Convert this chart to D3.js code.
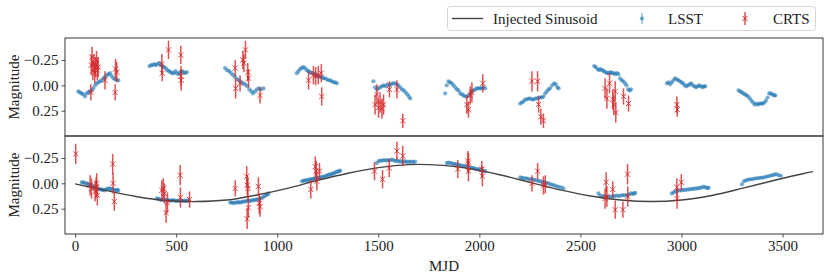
<!DOCTYPE html>
<html>
<head>
<meta charset="utf-8">
<script src="https://cdn.jsdelivr.net/npm/d3@7"></script>
</head>
<body style="margin:0; background:#fff">
<div id="chart"></div>
<script>
// values: [MJD, magnitude] and [MJD, magnitude, error]
const topLsst = [
  [16,0.06],[24,0.07],[32,0.08],[40,0.09],[49,0.11],[57,0.08],[66,0.07],[74,0.06],[82,0.05],[90,0.03],[99,0.0],[107,-0.02],[115,-0.03],[124,-0.04],[132,-0.05],[140,-0.07],[148,-0.08],[157,-0.1],[165,-0.11],[173,-0.12],[181,-0.09],[190,-0.07],[198,-0.06],[206,-0.05],[214,-0.05],
  [368,-0.19],[376,-0.2],[384,-0.2],[392,-0.21],[400,-0.2],[408,-0.21],[416,-0.22],[424,-0.2],[432,-0.19],[440,-0.18],[448,-0.17],[456,-0.15],[464,-0.14],[472,-0.13],[480,-0.12],[488,-0.12],[496,-0.14],[504,-0.12],[512,-0.11],[520,-0.13],[528,-0.14],[536,-0.13],[544,-0.12],[553,-0.13],
  [742,-0.17],[752,-0.15],[762,-0.14],[772,-0.12],[782,-0.1],[792,-0.08],[802,-0.06],[812,-0.05],[822,-0.03],[832,-0.02],[842,-0.01],[852,0.01],[862,0.04],[872,0.06],[880,0.08],[890,0.06],[900,0.04],[910,0.03],[920,0.04],[932,0.03],
  [1097,-0.12],[1105,-0.14],[1113,-0.16],[1121,-0.17],[1129,-0.18],[1137,-0.17],[1146,-0.15],[1154,-0.14],[1162,-0.13],[1170,-0.12],[1178,-0.12],[1186,-0.11],[1195,-0.1],[1203,-0.09],[1211,-0.08],[1220,-0.08],[1228,-0.07],[1236,-0.07],[1245,-0.06],[1253,-0.05],[1262,-0.05],[1270,-0.04],[1278,-0.03],[1287,-0.03],[1295,-0.02],
  [1476,-0.04],[1484,0.02],[1492,0.04],[1500,0.03],[1509,0.02],[1518,0.01],[1527,0.0],[1536,0.01],[1545,-0.01],[1554,0.0],[1563,-0.01],[1572,-0.02],[1581,-0.02],[1590,-0.01],[1599,0.0],[1608,0.02],[1617,0.04],[1626,0.05],[1635,0.07],[1644,0.09],[1652,0.11],[1658,0.13],
  [1831,0.08],[1839,0.0],[1847,-0.04],[1855,-0.03],[1863,-0.02],[1872,0.0],[1880,0.02],[1889,0.04],[1897,0.05],[1905,0.08],[1914,0.09],[1922,0.1],[1930,0.11],[1938,0.11],[1947,0.1],[1955,0.08],[1963,0.06],[1971,0.05],[1980,0.04],[1988,0.03],[1996,0.03],[2004,0.03],[2012,0.03],[2020,0.02],[2029,0.03],
  [2202,0.18],[2210,0.17],[2218,0.16],[2226,0.14],[2235,0.14],[2243,0.13],[2251,0.13],[2260,0.14],[2268,0.14],[2276,0.13],[2285,0.13],[2293,0.12],[2301,0.12],[2310,0.12],[2317,0.11],[2326,0.08],[2334,0.06],[2342,0.04],[2350,0.03],[2360,0.0],[2370,-0.02],[2378,-0.01],[2386,0.02],[2392,0.03],
  [2568,-0.19],[2576,-0.18],[2584,-0.16],[2592,-0.15],[2600,-0.16],[2608,-0.15],[2616,-0.14],[2624,-0.13],[2632,-0.12],[2640,-0.12],[2648,-0.13],[2656,-0.12],[2664,-0.12],[2672,-0.11],[2680,-0.12],[2688,-0.11],[2696,-0.07],[2704,-0.05],[2712,-0.04],[2720,-0.02],[2728,0.0],[2736,0.04],[2744,0.05],[2750,0.04],
  [2928,-0.02],[2936,-0.03],[2944,-0.01],[2952,-0.03],[2960,-0.05],[2968,-0.07],[2976,-0.06],[2984,-0.05],[2992,-0.04],[3000,-0.03],[3008,-0.02],[3016,0.0],[3024,0.01],[3032,0.0],[3040,-0.01],[3048,-0.02],[3056,0.0],[3064,0.01],[3072,0.02],[3080,0.01],[3088,0.0],[3096,0.01],[3104,0.02],[3112,0.01],[3117,0.01],
  [3282,0.05],[3290,0.06],[3298,0.07],[3306,0.08],[3314,0.09],[3322,0.1],[3330,0.11],[3338,0.13],[3346,0.15],[3354,0.17],[3362,0.19],[3370,0.18],[3378,0.19],[3386,0.18],[3394,0.18],[3402,0.18],[3410,0.17],[3418,0.15],[3426,0.12],[3434,0.08],[3442,0.08],[3450,0.09],[3458,0.1],[3464,0.1]
];

const topCrts = [
  [78,0.07,0.08],[80,-0.2,0.1],[84,-0.28,0.1],[88,-0.15,0.1],[93,-0.22,0.09],[97,-0.12,0.1],[101,-0.18,0.1],[106,-0.25,0.09],[110,-0.15,0.1],[114,-0.18,0.1],[148,-0.05,0.09],[198,0.07,0.08],[200,-0.16,0.1],[206,-0.13,0.1],
  [429,-0.21,0.1],[431,-0.12,0.08],[462,-0.35,0.09],[523,-0.3,0.09],[524,-0.09,0.1],[525,-0.05,0.1],
  [792,-0.17,0.08],[794,0.03,0.1],[816,-0.02,0.08],[830,-0.25,0.09],[835,-0.22,0.09],[843,-0.35,0.09],[854,-0.13,0.09],[858,-0.07,0.09],[915,0.1,0.08],
  [1155,-0.05,0.09],[1179,-0.1,0.09],[1190,-0.09,0.09],[1203,-0.1,0.09],[1218,-0.12,0.09],[1220,0.11,0.09],
  [1484,0.19,0.1],[1493,0.09,0.1],[1501,0.22,0.1],[1509,0.17,0.1],[1518,0.23,0.1],[1526,0.19,0.1],[1555,0.04,0.08],[1592,0.04,0.09],[1621,0.35,0.07],
  [1938,0.19,0.09],[1946,0.24,0.08],[1955,0.1,0.09],[1963,0.07,0.1],[2017,-0.02,0.09],
  [2260,-0.04,0.1],[2288,-0.04,0.1],[2293,0.19,0.08],[2304,0.31,0.08],[2317,0.35,0.07],
  [2622,0.03,0.1],[2631,0.13,0.1],[2644,-0.02,0.1],[2660,0.14,0.1],[2665,0.19,0.1],[2672,0.06,0.1],[2675,0.27,0.1],[2713,0.11,0.08],[2738,0.18,0.08],
  [2977,0.19,0.08],[2979,0.24,0.07]
];

const bottomLsst = [
  [33,-0.01],[41,-0.01],[49,0.0],[57,0.0],[65,0.01],[73,0.01],[81,0.02],[89,0.03],[97,0.04],[105,0.05],[113,0.05],[121,0.06],[129,0.06],[137,0.065],[145,0.07],[153,0.06],[161,0.055],[169,0.05],[177,0.055],[185,0.06],[193,0.065],[201,0.07],[209,0.065],[214,0.07],
  [404,0.15],[412,0.15],[420,0.16],[428,0.165],[436,0.16],[444,0.17],[452,0.16],[460,0.165],[468,0.17],[476,0.17],[484,0.165],[492,0.17],[500,0.175],[508,0.17],[516,0.175],[524,0.17],[532,0.175],[540,0.17],[548,0.175],[556,0.17],[561,0.17],
  [767,0.19],[775,0.19],[783,0.195],[791,0.19],[799,0.19],[807,0.185],[815,0.19],[823,0.185],[831,0.18],[839,0.18],[847,0.175],[855,0.17],[863,0.175],[871,0.17],[879,0.165],[887,0.165],[895,0.16],[903,0.16],[911,0.155],[919,0.15],[927,0.14],[935,0.13],[943,0.12],[951,0.11],[957,0.1],
  [1122,-0.02],[1130,-0.025],[1138,-0.03],[1146,-0.03],[1154,-0.035],[1162,-0.04],[1170,-0.04],[1178,-0.045],[1186,-0.05],[1194,-0.05],[1202,-0.055],[1210,-0.06],[1218,-0.06],[1226,-0.065],[1234,-0.07],[1242,-0.075],[1250,-0.08],[1258,-0.085],[1266,-0.09],[1274,-0.095],[1282,-0.1],[1290,-0.11],[1298,-0.115],[1306,-0.12],[1311,-0.125],
  [1493,-0.2],[1502,-0.22],[1511,-0.225],[1520,-0.225],[1529,-0.23],[1538,-0.225],[1547,-0.23],[1556,-0.225],[1565,-0.235],[1574,-0.23],[1583,-0.22],[1592,-0.225],[1601,-0.215],[1610,-0.22],[1619,-0.21],[1628,-0.22],[1637,-0.21],[1646,-0.215],[1655,-0.21],[1664,-0.215],[1673,-0.21],[1682,-0.215],
  [1839,-0.2],[1848,-0.205],[1857,-0.2],[1866,-0.195],[1875,-0.19],[1884,-0.19],[1893,-0.185],[1902,-0.18],[1911,-0.175],[1920,-0.17],[1929,-0.17],[1938,-0.165],[1947,-0.16],[1956,-0.155],[1965,-0.15],[1974,-0.15],[1983,-0.14],[1992,-0.14],[2001,-0.135],[2010,-0.13],[2019,-0.125],[2029,-0.12],
  [2202,-0.06],[2212,-0.055],[2222,-0.05],[2232,-0.05],[2242,-0.045],[2252,-0.04],[2262,-0.04],[2272,-0.035],[2282,-0.03],[2292,-0.025],[2302,-0.02],[2312,-0.015],[2322,-0.01],[2332,-0.005],[2342,0.0],[2352,0.01],[2362,0.015],[2372,0.02],[2382,0.03],[2392,0.035],[2404,0.04],[2416,0.05],
  [2589,0.1],[2599,0.12],[2609,0.13],[2619,0.125],[2629,0.13],[2639,0.135],[2649,0.13],[2659,0.13],[2669,0.125],[2679,0.12],[2689,0.125],[2699,0.12],[2709,0.115],[2719,0.12],[2729,0.115],[2739,0.11],[2749,0.1],[2759,0.105],[2765,0.1],[2771,0.095],
  [2952,0.1],[2961,0.09],[2970,0.08],[2980,0.075],[2990,0.07],[3000,0.07],[3010,0.065],[3020,0.065],[3030,0.06],[3040,0.06],[3050,0.055],[3060,0.055],[3070,0.05],[3080,0.05],[3090,0.045],[3100,0.04],[3110,0.035],[3120,0.04],[3128,0.045],[3134,0.045],
  [3299,0.01],[3309,-0.02],[3319,-0.03],[3329,-0.035],[3339,-0.04],[3349,-0.04],[3359,-0.045],[3369,-0.05],[3379,-0.05],[3389,-0.055],[3399,-0.055],[3409,-0.06],[3419,-0.065],[3429,-0.07],[3439,-0.075],[3449,-0.08],[3459,-0.085],[3469,-0.09],[3480,-0.08],[3492,-0.075]
];

const bottomCrts = [
  [3,-0.29,0.1],
  [74,0.02,0.1],[81,0.05,0.1],[99,0.08,0.1],[104,0.04,0.1],[107,0.0,0.1],[110,0.12,0.1],[186,-0.19,0.1],[188,0.0,0.1],[194,0.18,0.09],
  [429,0.07,0.1],[436,0.05,0.1],[442,0.1,0.1],[450,0.29,0.1],[457,0.19,0.1],[520,-0.08,0.1],[521,0.14,0.1],[566,0.16,0.08],
  [792,0.05,0.08],[849,-0.07,0.1],[852,0.02,0.1],[855,0.05,0.1],[857,0.24,0.1],[851,0.35,0.1],[907,0.03,0.09],[911,0.2,0.1],[915,0.23,0.1],
  [1166,0.06,0.09],[1188,-0.165,0.1],[1193,-0.12,0.1],[1196,-0.02,0.09],[1209,-0.12,0.08],
  [1481,-0.12,0.09],[1521,-0.04,0.09],[1554,-0.15,0.09],[1592,-0.32,0.09],[1621,-0.27,0.1],
  [1893,-0.14,0.09],[1943,-0.22,0.1],[1946,-0.2,0.1],[1946,-0.12,0.1],[2012,-0.14,0.08],[2015,-0.07,0.1],
  [2260,0.0,0.08],[2288,-0.12,0.08],[2317,0.02,0.09],[2326,0.01,0.09],
  [2622,0.15,0.1],[2627,-0.01,0.1],[2631,0.13,0.1],[2660,0.06,0.08],[2672,0.26,0.09],[2710,0.26,0.08],[2733,-0.09,0.1],[2734,0.13,0.1],
  [2977,0.04,0.09],[2978,0.15,0.1],[2999,-0.01,0.08]
];

// injected sinusoid, sampled from the drawn curve
const sinusoid = [
  [0,0.005],[150,0.07],[300,0.13],[450,0.17],[600,0.18],[750,0.165],[900,0.115],[1050,0.05],[1200,-0.03],
  [1350,-0.1],[1500,-0.155],[1650,-0.185],[1800,-0.18],[1950,-0.145],[2100,-0.085],[2250,-0.01],[2400,0.065],
  [2550,0.125],[2700,0.165],[2850,0.18],[3000,0.165],[3150,0.12],[3300,0.05],[3450,-0.025],[3600,-0.095],[3650,-0.115]
];

const xTicks = [0, 500, 1000, 1500, 2000, 2500, 3000, 3500];
const yTicks = [-0.25, 0, 0.25];
const legendLabels = ["Injected Sinusoid", "LSST", "CRTS"];

const width = 830, height = 278;
const blue = "#1f77b4", red = "#d62728", lineColor = "#444";
const font = "Liberation Serif";

const svg = d3.select("#chart").append("svg")
  .attr("width", width)
  .attr("height", height)
  .attr("font-family", font);

const x = d3.scaleLinear().domain([-50, 3700]).range([65, 823]);

const panels = [
  { top: 38, bottom: 136, lsst: topLsst, crts: topCrts, curve: false },
  { top: 136, bottom: 234, lsst: bottomLsst, crts: bottomCrts, curve: true }
];

const fmt = d => (d < 0 ? "\u2212" : "") + Math.abs(d).toFixed(2);

function crossPath(px, py, s) {
  return `M${px - s},${py - s}L${px + s},${py + s}M${px - s},${py + s}L${px + s},${py - s}`;
}

panels.forEach((p, i) => {
  // magnitudes: brighter (negative) at the top
  const y = d3.scaleLinear().domain([-0.467, 0.5]).range([p.top, p.bottom]);
  const g = svg.append("g");

  // LSST points
  g.append("g").selectAll("circle")
    .data(p.lsst)
    .enter()
    .append("circle")
    .attr("cx", d => x(d[0]))
    .attr("cy", d => y(d[1]))
    .attr("r", 2.1)
    .style("fill", blue)
    .style("fill-opacity", 0.6);

  if (p.curve) {
    const line = d3.line()
      .x(d => x(d[0]))
      .y(d => y(d[1]))
      .curve(d3.curveCatmullRom);
    g.append("path")
      .datum(sinusoid)
      .attr("d", line)
      .style("fill", "none")
      .style("stroke", lineColor)
      .style("stroke-width", 1.4);
  }

  // CRTS error bars and x markers
  const c = g.append("g").selectAll("g")
    .data(p.crts)
    .enter()
    .append("g");
  c.append("line")
    .attr("x1", d => x(d[0])).attr("x2", d => x(d[0]))
    .attr("y1", d => y(d[1] - d[2])).attr("y2", d => y(d[1] + d[2]))
    .style("stroke", red)
    .style("stroke-opacity", 0.8)
    .style("stroke-width", 1.5);
  c.append("path")
    .attr("d", d => crossPath(x(d[0]), y(d[1]), 2.6))
    .style("fill", "none")
    .style("stroke", red)
    .style("stroke-opacity", 0.85)
    .style("stroke-width", 1);

  // frame
  g.append("rect")
    .attr("x", 65).attr("y", p.top)
    .attr("width", 823 - 65).attr("height", p.bottom - p.top)
    .style("fill", "none")
    .style("stroke", "#222")
    .style("stroke-width", 0.9);

  const yAxis = g.append("g")
    .attr("transform", "translate(65,0)")
    .call(d3.axisLeft(y).tickValues(yTicks).tickFormat(fmt).tickSize(3.5).tickPadding(3))
    .attr("font-family", font)
    .attr("font-size", 15);
  yAxis.select(".domain").remove();
  yAxis.selectAll("line").style("stroke", "#222").style("stroke-width", 0.8);
  yAxis.selectAll("text").attr("fill", "#222");

  svg.append("text")
    .attr("transform", `translate(16,${(p.top + p.bottom) / 2}) rotate(-90)`)
    .attr("text-anchor", "middle")
    .attr("dominant-baseline", "middle")
    .attr("font-family", font)
    .attr("font-size", 15)
    .attr("fill", "#222")
    .text("Magnitude");

  if (i === 1) {
    const xAxis = g.append("g")
      .attr("transform", `translate(0,${p.bottom})`)
      .call(d3.axisBottom(x).tickValues(xTicks).tickFormat(d3.format("d")).tickSize(3.5).tickPadding(3))
      .attr("font-family", font)
      .attr("font-size", 15);
    xAxis.select(".domain").remove();
    xAxis.selectAll("line").style("stroke", "#222").style("stroke-width", 0.8);
    xAxis.selectAll("text").attr("fill", "#222");
  }
});

svg.append("text")
  .attr("x", 444).attr("y", 271)
  .attr("text-anchor", "middle")
  .attr("font-family", font)
  .attr("font-size", 15)
  .attr("fill", "#222")
  .text("MJD");

// legend
const lg = svg.append("g");
lg.append("rect")
  .attr("x", 447.5).attr("y", 6.5)
  .attr("width", 368).attr("height", 24)
  .attr("rx", 3)
  .style("fill", "#fff")
  .style("stroke", "#ccc")
  .style("stroke-width", 0.8);
lg.append("line")
  .attr("x1", 452).attr("x2", 483).attr("y1", 18.5).attr("y2", 18.5)
  .style("stroke", lineColor).style("stroke-width", 1.4);
lg.append("line")
  .attr("x1", 642).attr("x2", 642).attr("y1", 13).attr("y2", 24)
  .style("stroke", blue).style("stroke-opacity", 0.6).style("stroke-width", 1.2);
lg.append("circle")
  .attr("cx", 642).attr("cy", 18.5).attr("r", 2.1)
  .style("fill", blue).style("fill-opacity", 0.6);
lg.append("line")
  .attr("x1", 745).attr("x2", 745).attr("y1", 12).attr("y2", 25)
  .style("stroke", red).style("stroke-opacity", 0.8).style("stroke-width", 1.5);
lg.append("path")
  .attr("d", crossPath(745, 18.5, 2.6))
  .style("fill", "none").style("stroke", red).style("stroke-width", 1);
const legendX = [493, 668, 773];
lg.selectAll("text.leg")
  .data(legendLabels)
  .enter()
  .append("text")
  .attr("class", "leg")
  .attr("x", (d, i) => legendX[i])
  .attr("y", 23.5)
  .attr("font-family", font)
  .attr("font-size", 15)
  .attr("fill", "#222")
  .text(d => d);
</script>
</body>
</html>
